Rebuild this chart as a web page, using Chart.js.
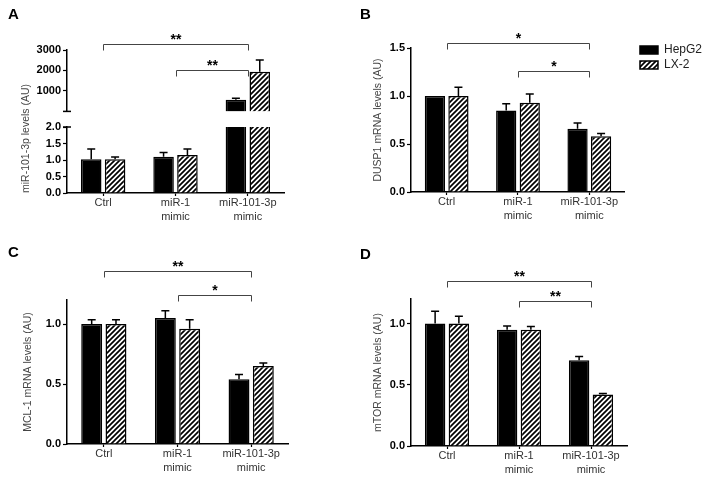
<!DOCTYPE html>
<html>
<head>
<meta charset="utf-8">
<script src="https://cdn.jsdelivr.net/npm/chart.js@4"></script>
<style>
html, body { margin: 0; padding: 0; background: #fff; }
#fig { position: relative; width: 706px; height: 479px; overflow: hidden; background: #fff; }
#fig canvas { position: absolute; }
</style>
</head>
<body>
<div id="fig">
  <canvas id="aLow" width="300" height="240" style="left:0;top:0"></canvas>
  <canvas id="aTop" width="300" height="120" style="left:0;top:0"></canvas>
  <canvas id="pB" width="360" height="240" style="left:352px;top:0"></canvas>
  <canvas id="pC" width="300" height="239" style="left:0;top:240px"></canvas>
  <canvas id="pD" width="354" height="239" style="left:352px;top:240px"></canvas>
</div>
<script>
// categories / series
const categories = ['Ctrl', ['miR-1', 'mimic'], ['miR-101-3p', 'mimic']];
const seriesNames = ['HepG2', 'LX-2'];

// A: miR-101-3p levels (AU), mean and top of error bar
const aHepG2 = [1.02, 1.10, 570];
const aHepG2Err = [1.33, 1.23, 640];
const aLX2 = [1.02, 1.15, 1940];
const aLX2Err = [1.09, 1.33, 2510];
const aBrackets = [[0, 2, 3270, '**'], [1, 2, 2045, '**']];

// B: DUSP1 mRNA levels (AU)
const bHepG2 = [1.0, 0.85, 0.66];
const bHepG2Err = [1.0, 0.92, 0.72];
const bLX2 = [1.0, 0.93, 0.58];
const bLX2Err = [1.09, 1.02, 0.61];
const bBrackets = [[0, 2, 1.555, '*'], [1, 2, 1.26, '*']];

// C: MCL-1 mRNA levels (AU)
const cHepG2 = [1.0, 1.05, 0.54];
const cHepG2Err = [1.035, 1.11, 0.58];
const cLX2 = [1.0, 0.96, 0.65];
const cLX2Err = [1.035, 1.035, 0.675];
const cBrackets = [[0, 2, 1.44, '**'], [1, 2, 1.24, '*']];

// D: mTOR mRNA levels (AU)
const dHepG2 = [1.0, 0.95, 0.70];
const dHepG2Err = [1.10, 0.98, 0.73];
const dLX2 = [1.0, 0.95, 0.42];
const dLX2Err = [1.06, 0.975, 0.428];
const dBrackets = [[0, 2, 1.35, '**'], [1, 2, 1.18, '**']];

Chart.defaults.font.family = "'Liberation Sans', Arial, sans-serif";
Chart.defaults.animation = false;

function makeStripes() {
    const c = document.createElement('canvas');
    c.width = 5; c.height = 5;
    const g = c.getContext('2d');
    g.fillStyle = '#fff';
    g.fillRect(0, 0, 5, 5);
    g.strokeStyle = '#000';
    g.lineWidth = 1.7;
    g.beginPath();
    g.moveTo(0, 5); g.lineTo(5, 0);
    g.moveTo(-1, 1); g.lineTo(1, -1);
    g.moveTo(4, 6); g.lineTo(6, 4);
    g.stroke();
    return g.createPattern(c, 'repeat');
}
const stripes = makeStripes();

// error bars (upper half only)
const errorBars = {
    id: 'errorBars',
    afterDatasetsDraw(chart) {
        const {ctx, chartArea} = chart;
        const y = chart.scales.y;
        ctx.save();
        ctx.beginPath();
        ctx.rect(chartArea.left, chartArea.top - 1, chartArea.width, chartArea.height + 1);
        ctx.clip();
        ctx.strokeStyle = '#000';
        ctx.lineWidth = 1.5;
        chart.data.datasets.forEach((ds, i) => {
            chart.getDatasetMeta(i).data.forEach((bar, j) => {
                const top = y.getPixelForValue(ds.err[j]);
                if (bar.y - top < 0.5) return;
                ctx.beginPath();
                ctx.moveTo(bar.x, bar.y);
                ctx.lineTo(bar.x, top);
                ctx.moveTo(bar.x - 4, top);
                ctx.lineTo(bar.x + 4, top);
                ctx.stroke();
            });
        });
        ctx.restore();
    }
};

// significance brackets
const brackets = {
    id: 'brackets',
    afterDraw(chart, args, opts) {
        if (!opts.items) return;
        const {ctx} = chart;
        const x = chart.scales.x, y = chart.scales.y;
        ctx.save();
        ctx.strokeStyle = '#444';
        ctx.lineWidth = 1;
        ctx.fillStyle = '#000';
        ctx.font = "bold 14px 'Liberation Sans', Arial, sans-serif";
        ctx.textAlign = 'center';
        ctx.textBaseline = 'alphabetic';
        opts.items.forEach(([from, to, level, text]) => {
            const x0 = Math.round(x.getPixelForValue(from)) + 0.5;
            const x1 = Math.round(x.getPixelForValue(to)) + 0.5;
            const yy = Math.round(y.getPixelForValue(level)) + 0.5;
            ctx.beginPath();
            ctx.moveTo(x0, yy + 6);
            ctx.lineTo(x0, yy);
            ctx.lineTo(x1, yy);
            ctx.lineTo(x1, yy + 6);
            ctx.stroke();
            ctx.fillText(text, (x0 + x1) / 2, yy - 1);
        });
        ctx.restore();
    }
};

// small marks where the A axis is broken
const axisBreak = {
    id: 'axisBreak',
    afterDraw(chart, args, opts) {
        if (!opts.edge) return;
        const {ctx, chartArea} = chart;
        const yy = opts.edge === 'bottom' ? chartArea.bottom : chartArea.top;
        ctx.save();
        ctx.strokeStyle = '#000';
        ctx.lineWidth = 1.5;
        ctx.beginPath();
        ctx.moveTo(chartArea.left - 4, yy);
        ctx.lineTo(chartArea.left + 4, yy);
        ctx.stroke();
        ctx.restore();
    }
};

function datasets(h, hErr, l, lErr) {
    const common = {borderColor: '#000', borderWidth: 1.5, clip: 0, categoryPercentage: 0.66, barPercentage: 0.86};
    return [
        Object.assign({label: seriesNames[0], data: h, err: hErr, backgroundColor: '#000'}, common),
        Object.assign({label: seriesNames[1], data: l, err: lErr, backgroundColor: stripes}, common),
    ];
}

function xAxis(show, height) {
    return {
        display: show,
        offset: true,
        grid: {display: true, drawOnChartArea: false, offset: false, color: '#000', tickLength: 3, tickWidth: 1.2},
        border: {display: true, color: '#000', width: 1.5},
        ticks: {color: '#333', font: {size: 11, lineHeight: 1.27}, padding: 0, maxRotation: 0, autoSkip: false},
        afterFit: s => { s.height = height; }
    };
}

function yAxis(max, step, digits, title, width, titlePad, align) {
    return {
        min: 0,
        max: max,
        grid: {display: true, drawOnChartArea: false, color: '#000', tickLength: 4, tickWidth: 1.2},
        border: {display: true, color: '#000', width: 1.5},
        ticks: {stepSize: step, includeBounds: false, color: '#000', padding: 2,
                font: {size: 11, weight: 'bold'}, callback: v => v.toFixed(digits)},
        title: {display: !!title, text: title || '', color: '#444', font: {size: 10.5},
                align: align || 'center', padding: {top: titlePad, bottom: 0}},
        afterFit: s => { s.width = width; }
    };
}

function panelTitle(letter, top, bottom) {
    return {display: true, text: letter, align: 'start', color: '#000',
            font: {size: 15, weight: 'bold'}, padding: {top: top, bottom: bottom}};
}

function baseOptions(padding) {
    return {
        responsive: false,
        devicePixelRatio: 1,
        animation: false,
        layout: {padding: padding},
        plugins: {legend: {display: false}, tooltip: {enabled: false}},
    };
}

// Panel A, lower part of the broken axis
{
    const opts = baseOptions({left: 8, right: 16, top: 127, bottom: 7});
    opts.scales = {x: xAxis(true, 40), y: yAxis(2, 0.5, 1, 'miR-101-3p levels (AU)', 59, 12, 'start')};
    opts.plugins.axisBreak = {edge: 'top'};
    new Chart(document.getElementById('aLow'), {
        type: 'bar',
        data: {labels: categories, datasets: datasets(aHepG2, aHepG2Err, aLX2, aLX2Err)},
        options: opts,
        plugins: [errorBars, axisBreak],
    });
}

// Panel A, upper part of the broken axis
{
    const opts = baseOptions({left: 8, right: 16, top: 0, bottom: 4});
    const y = yAxis(3000, 1000, 0, null, 59, 0);
    y.afterBuildTicks = s => { s.ticks = s.ticks.filter(t => t.value > 0); };
    opts.scales = {x: xAxis(false, 0), y: y};
    opts.plugins.title = panelTitle('A', 6, 26);
    opts.plugins.brackets = {items: aBrackets};
    opts.plugins.axisBreak = {edge: 'bottom'};
    new Chart(document.getElementById('aTop'), {
        type: 'bar',
        data: {labels: categories, datasets: datasets(aHepG2, aHepG2Err, aLX2, aLX2Err)},
        options: opts,
        plugins: [errorBars, brackets, axisBreak],
    });
}

// Panel B (carries the legend)
{
    const opts = baseOptions({left: 8, right: 0, top: 0, bottom: 8});
    opts.scales = {
        x: xAxis(true, 40),
        y: yAxis(1.5, 0.5, 1, 'DUSP1 mRNA levels (AU)', 51, 12),
        gap: {type: 'linear', position: 'right', display: true, grid: {display: false},
              border: {display: false}, ticks: {display: false}, afterFit: s => { s.width = 12; }},
    };
    opts.plugins.title = panelTitle('B', 6, 24);
    opts.plugins.brackets = {items: bBrackets};
    opts.plugins.legend = {
        display: true,
        position: 'right',
        align: 'start',
        maxWidth: 100,
        title: {display: true, text: '', font: {size: 10}, padding: {top: 29, bottom: 0}},
        labels: {boxWidth: 18, boxHeight: 8, padding: 3, color: '#222', font: {size: 12}},
    };
    new Chart(document.getElementById('pB'), {
        type: 'bar',
        data: {labels: categories, datasets: datasets(bHepG2, bHepG2Err, bLX2, bLX2Err)},
        options: opts,
        plugins: [errorBars, brackets],
    });
}

// Panel C
{
    const opts = baseOptions({left: 8, right: 12, top: 0, bottom: 3});
    opts.scales = {x: xAxis(true, 32), y: yAxis(1.2, 0.5, 1, 'MCL-1 mRNA levels (AU)', 59, 14)};
    opts.plugins.title = panelTitle('C', 4, 38);
    opts.plugins.brackets = {items: cBrackets};
    new Chart(document.getElementById('pC'), {
        type: 'bar',
        data: {labels: categories, datasets: datasets(cHepG2, cHepG2Err, cLX2, cLX2Err)},
        options: opts,
        plugins: [errorBars, brackets],
    });
}

// Panel D
{
    const opts = baseOptions({left: 8, right: 79, top: 0, bottom: 3});
    opts.scales = {x: xAxis(true, 30), y: yAxis(1.2, 0.5, 1, 'mTOR mRNA levels (AU)', 51, 12)};
    opts.plugins.title = panelTitle('D', 6, 35);
    opts.plugins.brackets = {items: dBrackets};
    new Chart(document.getElementById('pD'), {
        type: 'bar',
        data: {labels: categories, datasets: datasets(dHepG2, dHepG2Err, dLX2, dLX2Err)},
        options: opts,
        plugins: [errorBars, brackets],
    });
}
</script>
</body>
</html>
